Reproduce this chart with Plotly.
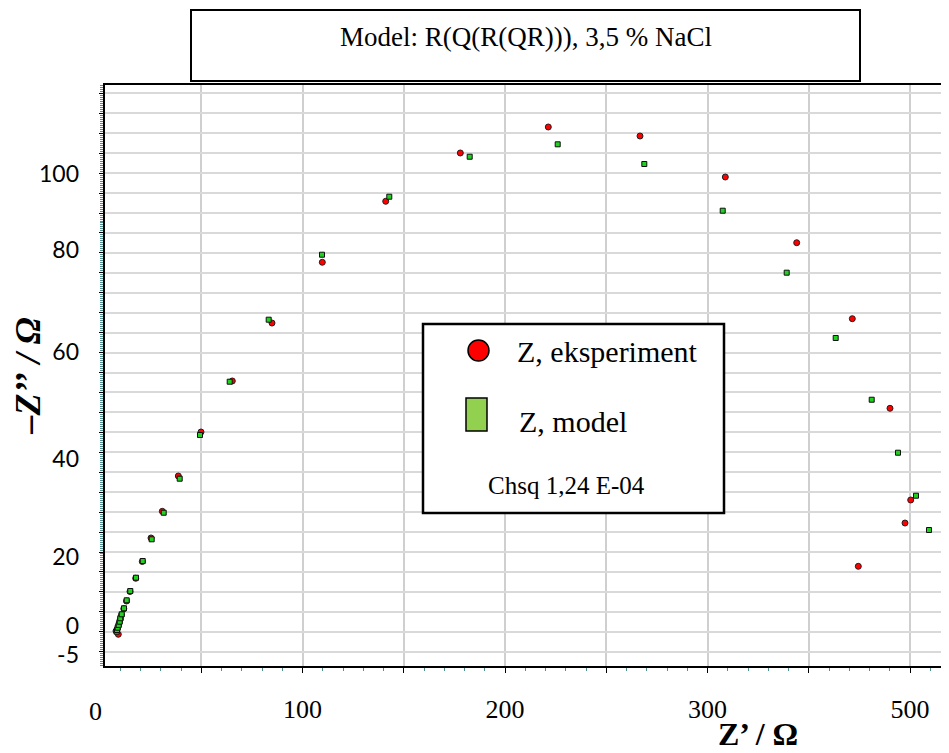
import plotly.graph_objects as go

# ---------------- data (Z' / Ohm, -Z'' / Ohm) ----------------
exp_zre = [9.04, 7.90, 8.64, 9.14, 9.63, 10.12, 10.62, 11.75, 13.09, 14.81, 17.63, 20.89,
           25.19, 30.77, 38.67, 49.88, 65.33, 84.94, 109.78, 141.09, 177.93, 221.38,
           266.67, 308.79, 344.05, 371.51, 390.12, 400.35, 397.53, 374.47]
exp_zim = [-0.94, -0.22, 0.33, 0.99, 1.75, 2.46, 3.33, 4.65, 6.36, 8.44, 11.34, 15.02,
           20.18, 26.03, 33.77, 43.42, 54.61, 67.32, 80.64, 94.01, 104.61, 110.31,
           108.33, 99.34, 84.93, 68.27, 48.62, 28.51, 23.46, 13.97]

mod_zre = [8.25, 8.40, 8.74, 9.23, 9.73, 10.02, 10.72, 11.85, 13.19, 14.96, 17.78, 21.09,
           25.53, 31.46, 39.36, 49.38, 64.05, 83.31, 109.63, 142.86, 182.57, 226.02,
           268.79, 307.51, 339.11, 363.31, 381.09, 394.07, 402.96, 409.38]
mod_zim = [-0.37, 0.00, 0.50, 1.10, 1.82, 2.57, 3.44, 4.76, 6.51, 8.55, 11.47, 15.13,
           19.89, 25.72, 33.18, 42.76, 54.45, 68.05, 82.30, 95.02, 103.79, 106.51,
           102.19, 91.95, 78.36, 64.04, 50.50, 38.88, 29.45, 21.93]

x_tick_vals = [0, 50, 100, 150, 200, 250, 300, 350, 400]
x_tick_text = ["0", "", "100", "", "200", "", "300", "", "500"]
y_tick_text = ["100", "80", "60", "40", "20", "0", "-5"]

title_text = "Model: R(Q(R(QR))), 3,5 % NaCl"
exp_name = "Z, eksperiment"
mod_name = "Z, model"
chisq_text = "Chsq 1,24 E-04"

# ---------------- geometry ----------------
# positions are page pixels of the 949x753 window; the figure div sits
# 8 px inside the page (default body margin)
OFF = 8
PAGE_W, PAGE_H = 949, 753
W, H = PAGE_W - OFF, PAGE_H - OFF
L, R, T, B = 100, 949, 85, 666          # paper area edges (page px)
AX_L = 105                               # page column of the y-axis line
XPX = 2.025                              # px per Ohm on x
YPX = 4.56                               # px per Ohm on y
Y0PX = 630                               # page row of -Z''=0

def xv(px):
    return (px - L) / XPX

def yv(py):
    return (Y0PX - py) / YPX

x_range = [xv(AX_L), xv(R)]
y_range = [yv(B), yv(T)]

grid_tick0 = yv(651.7)
grid_dtick = 19.94 / YPX

y_label_px = [174, 250, 352, 459, 557, 626, 655]
y_tick_vals = [yv(p) for p in y_label_px]

def px_x(px):
    return (px - L) / (R - L)

def px_y(py):
    return (B - py) / (B - T)

serif = "Liberation Serif"
x_tick_font = dict(family=serif, size=26, color="black")

fig = go.Figure()
fig.add_trace(go.Scatter(
    x=exp_zre, y=exp_zim, mode="markers", name=exp_name, showlegend=False,
    marker=dict(symbol="circle", size=6, color="#ff0000",
                line=dict(color="#202020", width=1))))
fig.add_trace(go.Scatter(
    x=mod_zre, y=mod_zim, mode="markers", name=mod_name, showlegend=False,
    marker=dict(symbol="square", size=5, color="#1ed21e",
                line=dict(color="#101010", width=1))))
fig.add_trace(go.Scatter(x=[None], y=[None], yaxis="y2", showlegend=False,
                         hoverinfo="skip"))

fig.update_layout(
    width=W, height=H,
    margin=dict(l=L - OFF, r=PAGE_W - R, t=T - OFF, b=PAGE_H - B, pad=0),
    paper_bgcolor="white", plot_bgcolor="white",
    title=dict(text=title_text, x=(526 - OFF) / W, xref="container", xanchor="center",
               y=1 - (37 - OFF) / H, yref="container", yanchor="middle",
               font=dict(family=serif, size=27, color="black")),
    xaxis=dict(
        domain=[px_x(AX_L), 1],
        range=x_range, tickmode="array", tickvals=x_tick_vals, ticktext=x_tick_text,
        showgrid=True, gridcolor="#cfcfcf", gridwidth=1.5, zeroline=False,
        showline=True, linecolor="black", linewidth=2, mirror=True,
        ticks="outside", ticklen=5, tickcolor="black", tickwidth=1,
        ticklabelstandoff=14,
        minor=dict(dtick=10, tick0=0, ticks="outside", ticklen=3,
                   tickcolor="#4f8f8f", showgrid=False),
        tickfont=x_tick_font,
    ),
    yaxis=dict(
        range=y_range, tickmode="linear", tick0=grid_tick0, dtick=grid_dtick,
        showticklabels=False, showgrid=True, gridcolor="#d9d9d9", gridwidth=2,
        zeroline=False, showline=True, linecolor="black", linewidth=2,
        ticks="outside", ticklen=4, tickcolor="black",
        minor=dict(tick0=grid_tick0, dtick=grid_dtick / 10, ticks="outside",
                   ticklen=3, tickcolor="#4f8f8f", showgrid=False),
    ),
    yaxis2=dict(
        overlaying="y", side="left", range=y_range, tickmode="array",
        tickvals=y_tick_vals, ticktext=y_tick_text, showgrid=False,
        zeroline=False, showline=False, ticks="", ticklabelstandoff=25,
        tickfont=dict(family="Lato", size=23, color="black"),
        title=dict(text="–Z’’\u00a0/\u00a0Ω", standoff=0,
                   font=dict(family=serif, size=36, color="black",
                             weight="bold", style="italic")),
    ),
)

shapes = [
    dict(type="rect", xref="paper", yref="paper",
         x0=px_x(191), x1=px_x(860), y0=px_y(81), y1=px_y(10),
         line=dict(color="black", width=2), fillcolor="white", layer="below"),
    dict(type="rect", xref="paper", yref="paper",
         x0=px_x(423), x1=px_x(724), y0=px_y(513), y1=px_y(324),
         line=dict(color="black", width=2.5), fillcolor="white", layer="above"),
    dict(type="circle", xref="paper", yref="paper",
         x0=px_x(468), x1=px_x(489), y0=px_y(361), y1=px_y(340),
         line=dict(color="black", width=1.5), fillcolor="#ff0000", layer="above"),
    dict(type="rect", xref="paper", yref="paper",
         x0=px_x(466), x1=px_x(487), y0=px_y(431), y1=px_y(398),
         line=dict(color="black", width=1.5), fillcolor="#92d050", layer="above"),
]
fig.update_layout(shapes=shapes)

ann = [
    # the "0" of the Z' scale is printed just left of the y axis, outside the range
    dict(text=x_tick_text[0], xref="paper", yref="paper", x=px_x(95), y=px_y(711),
         xanchor="center", yanchor="middle", showarrow=False, font=x_tick_font),
    dict(text=exp_name, xref="paper", yref="paper", x=px_x(515), y=px_y(351),
         xanchor="left", yanchor="middle", showarrow=False,
         font=dict(family=serif, size=30, color="black")),
    dict(text=mod_name, xref="paper", yref="paper", x=px_x(517), y=px_y(421),
         xanchor="left", yanchor="middle", showarrow=False,
         font=dict(family=serif, size=30, color="black")),
    dict(text=chisq_text, xref="paper", yref="paper", x=px_x(486), y=px_y(485),
         xanchor="left", yanchor="middle", showarrow=False,
         font=dict(family=serif, size=25, color="black")),
    dict(text="<b>Z’ / Ω</b>", xref="paper", yref="paper", x=px_x(758), y=px_y(734),
         xanchor="center", yanchor="middle", showarrow=False,
         font=dict(family=serif, size=32, color="black")),
]
fig.update_layout(annotations=ann)

fig.write_html("out.html")
